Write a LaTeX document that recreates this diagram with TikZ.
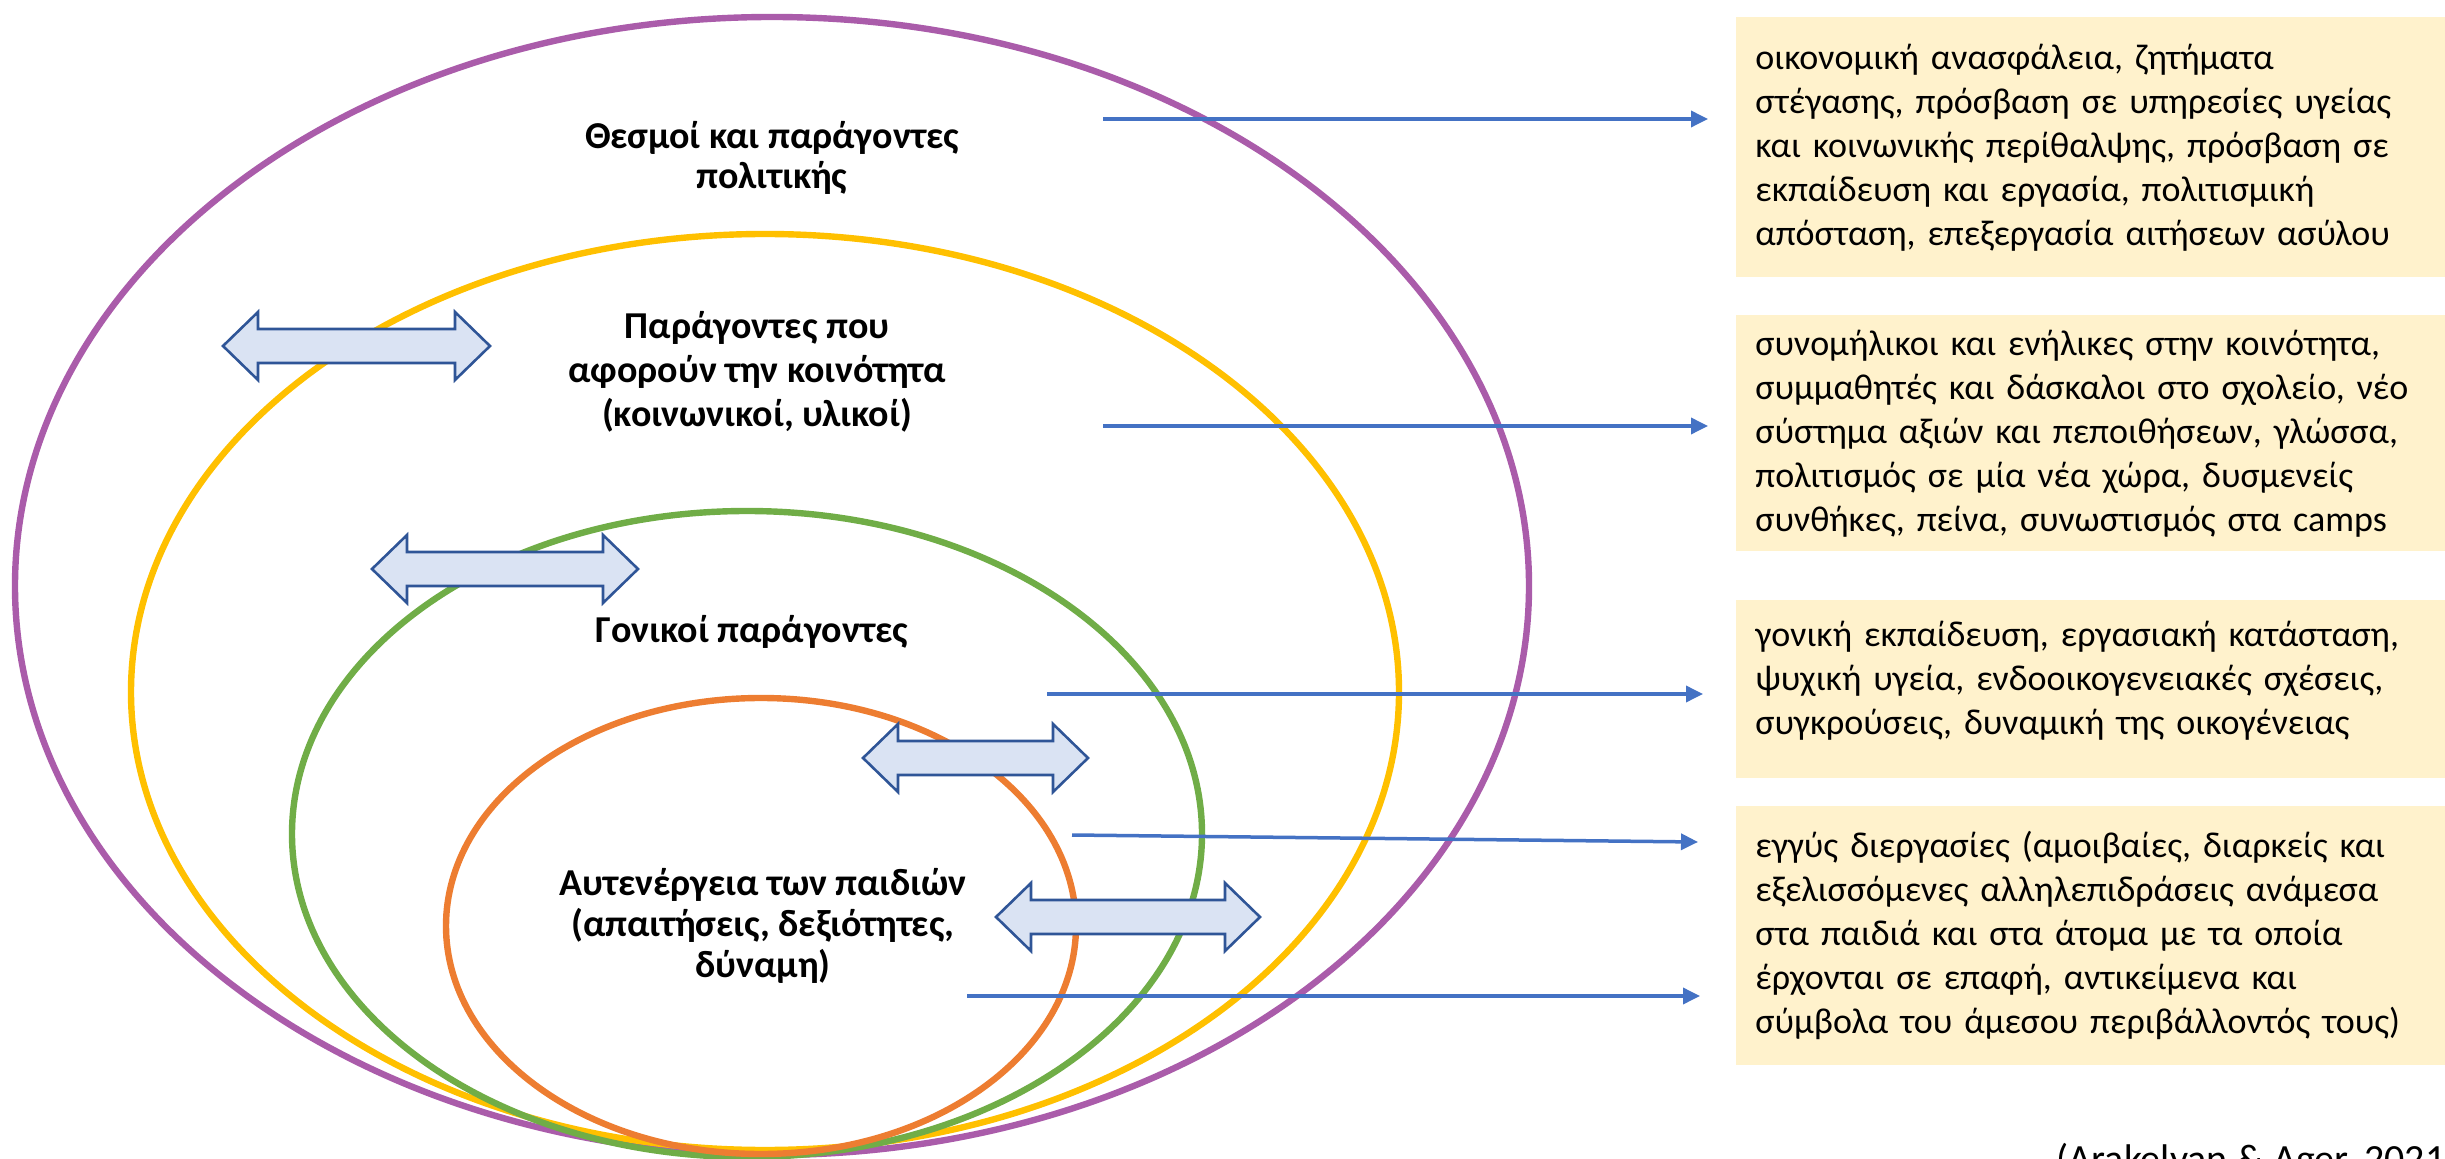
\documentclass[tikz,border=0pt]{standalone}
\usepackage{fontspec}
\setmainfont{Carlito}
\usetikzlibrary{arrows.meta,calc}
\definecolor{cpurple}{RGB}{170,92,170}
\definecolor{cyellow}{RGB}{255,192,0}
\definecolor{cgreen}{RGB}{112,173,71}
\definecolor{corange}{RGB}{237,125,49}
\definecolor{cblue}{RGB}{68,114,196}
\definecolor{cbox}{RGB}{255,242,204}
\definecolor{carrfill}{RGB}{218,227,243}
\definecolor{carrdraw}{RGB}{47,85,151}
\newcommand\DblArr[3]{%
  \draw[dblarrow] (#1,#3) -- ({#1+35},{#3-34}) -- ({#1+35},{#3-17}) -- ({#2-35},{#3-17}) -- ({#2-35},{#3-34}) -- (#2,#3)
   -- ({#2-35},{#3+34}) -- ({#2-35},{#3+17}) -- ({#1+35},{#3+17}) -- ({#1+35},{#3+34}) -- cycle;}
\begin{document}
\begin{tikzpicture}[x=0.5pt,y=-0.5pt,
  ring/.style={line width=3.2pt},
  conn/.style={draw=cblue, line width=1.75pt, -{Triangle[length=8.5pt,width=8pt]}},
  infobox/.style={fill=cbox, anchor=north west, text width=340pt, inner xsep=9.5pt, inner ysep=0pt,
     align=left, font=\fontsize{18pt}{22pt}\selectfont},
  lbl/.style={align=center, font=\bfseries\fontsize{19pt}{22pt}\selectfont},
  dblarrow/.style={fill=carrfill, draw=carrdraw, line width=1.3pt, line join=miter}]
\useasboundingbox (0,0) rectangle (2445,1159);
\clip (0,0) rectangle (2445,1159);

% rings
\draw[ring, draw=cpurple] (772,586) ellipse [x radius=757, y radius=569];
\draw[ring, draw=cyellow] (765,692) ellipse [x radius=634, y radius=458];
\draw[ring, draw=cgreen] (747,834) ellipse [x radius=455, y radius=323];
\draw[ring, draw=corange] (761,926) ellipse [x radius=315, y radius=228];

% double arrows
\DblArr{223}{490}{346}
\DblArr{372}{638}{569}
\DblArr{863}{1088}{758}
\DblArr{996}{1260}{917}

% labels
\node[lbl, font=\bfseries\fontsize{19pt}{20pt}\selectfont] (l1) at (772,158) {Θεσμοί και παράγοντες\\πολιτικής};
\node[lbl] (l2) at (757,372) {Παράγοντες που\\αφορούν την κοινότητα\\(κοινωνικοί, υλικοί)};
\node[lbl] (l3) at (752,632) {Γονικοί παράγοντες};
\node[lbl, font=\bfseries\fontsize{19pt}{20.5pt}\selectfont] (l4) at (763,926) {Αυτενέργεια των παιδιών\\(απαιτήσεις, δεξιότητες,\\δύναμη)};

% boxes
\node[infobox, minimum height=130pt] (b1) at (1736,17) {οικονομική ανασφάλεια, ζητήματα\\στέγασης, πρόσβαση σε υπηρεσίες υγείας\\και κοινωνικής περίθαλψης, πρόσβαση σε\\εκπαίδευση και εργασία, πολιτισμική\\απόσταση, επεξεργασία αιτήσεων ασύλου};
\node[infobox, minimum height=118pt] (b2) at (1736,315) {συνομήλικοι και ενήλικες στην κοινότητα,\\συμμαθητές και δάσκαλοι στο σχολείο, νέο\\σύστημα αξιών και πεποιθήσεων, γλώσσα,\\πολιτισμός σε μία νέα χώρα, δυσμενείς\\συνθήκες, πείνα, συνωστισμός στα camps};
\node[infobox, minimum height=89pt] (b3) at (1736,600) {γονική εκπαίδευση, εργασιακή κατάσταση,\\ψυχική υγεία, ενδοοικογενειακές σχέσεις,\\συγκρούσεις, δυναμική της οικογένειας\\[-10pt]\mbox{}};
\node[infobox, minimum height=129.5pt] (b4) at (1736,806) {εγγύς διεργασίες (αμοιβαίες, διαρκείς και\\εξελισσόμενες αλληλεπιδράσεις ανάμεσα\\στα παιδιά και στα άτομα με τα οποία\\έρχονται σε επαφή, αντικείμενα και\\σύμβολα του άμεσου περιβάλλοντός τους)};

% connectors
\coordinate (s1) at (1103,119);
\coordinate (s2) at (1103,426);
\coordinate (s3) at (1047,694);
\coordinate (s4) at (1072,835);
\coordinate (s5) at (967,996);
\draw[conn] (s1) -- ($(b1.west |- s1)+(-28,0)$);
\draw[conn] (s2) -- ($(b2.west |- s2)+(-28,0)$);
\draw[conn] (s3) -- ($(b3.west |- s3)+(-33,0)$);
\draw[conn] (s4) -- ($(b4.north west)+(-38,36)$);
\draw[conn] (s5) -- ($(b4.west |- s5)+(-36,0)$);

% citation
\node[anchor=base west, inner sep=0pt, font=\fontsize{20pt}{24pt}\selectfont] (cite) at (2056,1172) {(Arakelyan \& Ager, 2021};
\end{tikzpicture}
\end{document}
